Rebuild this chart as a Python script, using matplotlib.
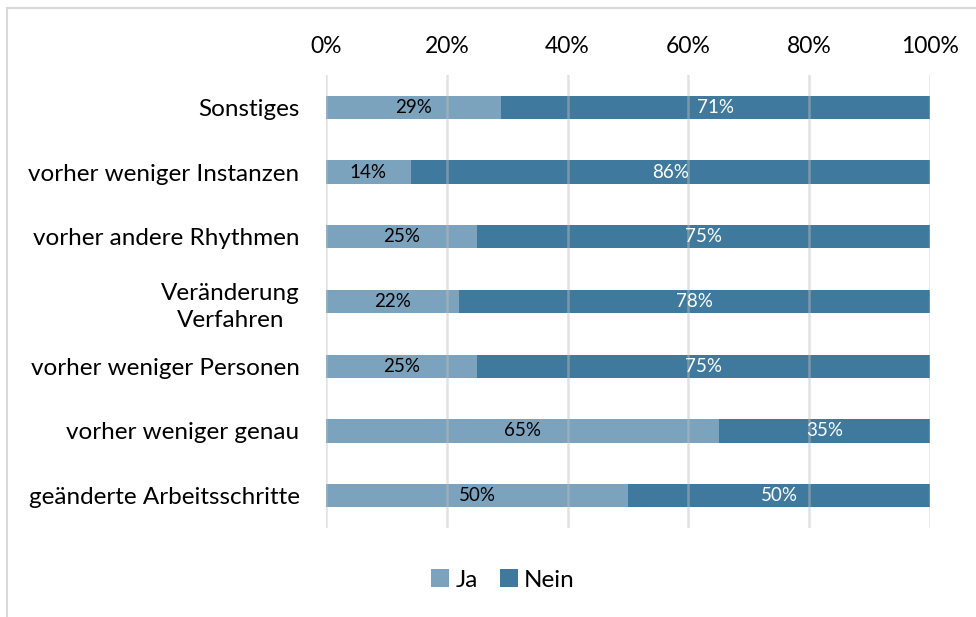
import matplotlib.pyplot as plt
from matplotlib.lines import Line2D
from matplotlib.ticker import PercentFormatter

plt.rcParams['font.family'] = ['Lato', 'DejaVu Sans']

categories = ['geänderte Arbeitsschritte', 'vorher weniger genau', 'vorher weniger Personen',
              'Veränderung\nVerfahren', 'vorher andere Rhythmen', 'vorher weniger Instanzen',
              'Sonstiges']
ja = [50, 65, 25, 22, 25, 14, 29]
nein = [50, 35, 75, 78, 75, 86, 71]

col_ja = '#7BA3BE'
col_nein = '#3F7A9E'

fig = plt.figure(figsize=(9.76, 6.17), dpi=100)
ax = fig.add_axes([326 / 976, 1 - 528 / 617, (930 - 326) / 976, 453 / 617])

y = range(len(categories))
b1 = ax.barh(y, ja, height=0.36, color=col_ja, label='Ja', zorder=2)
b2 = ax.barh(y, nein, left=ja, height=0.36, color=col_nein, label='Nein', zorder=2)

ax.bar_label(b1, labels=[f'{v}%' for v in ja], label_type='center', fontsize=13.5, color='black')
ax.bar_label(b2, labels=[f'{v}%' for v in nein], label_type='center', fontsize=13.5, color='white')

ax.set_xlim(0, 100)
ax.set_ylim(-0.5, len(categories) - 0.5)
ax.set_xticks([0, 20, 40, 60, 80, 100])
ax.xaxis.set_major_formatter(PercentFormatter(decimals=0))
ax.xaxis.tick_top()
ax.set_yticks(list(y))
ax.set_yticklabels(categories, fontsize=17.5, linespacing=1.4)
ax.tick_params(axis='x', labelsize=16.5, length=0, pad=13)
ax.tick_params(axis='y', length=0, pad=19)
for lab in ax.get_yticklabels():
    lab.set_multialignment('center')
ax.grid(axis='x', color='#BFBFBF', linewidth=1.8, alpha=0.45, zorder=3)
ax.set_axisbelow(False)
for s in ax.spines.values():
    s.set_visible(False)

fig.legend(handles=[b1, b2], loc='center', bbox_to_anchor=(503 / 976, 1 - 580 / 617),
           ncol=2, frameon=False, fontsize=17.5, handlelength=0.75, handleheight=0.75,
           handletextpad=0.25, columnspacing=0.9)

# Rahmen links und oben
fig.add_artist(Line2D([7 / 976, 7 / 976], [0, 1 - 8 / 617], color='#D9D9D9', linewidth=1.5))
fig.add_artist(Line2D([7 / 976, 1], [1 - 8 / 617, 1 - 8 / 617], color='#D9D9D9', linewidth=1.5))

fig.savefig('out.png', dpi=100)
